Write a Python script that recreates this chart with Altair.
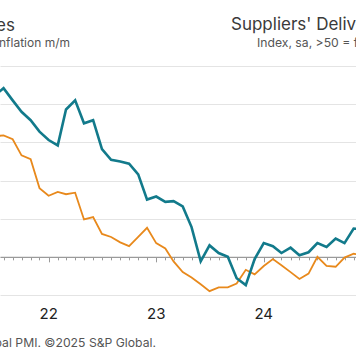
import altair as alt
import pandas as pd

months = pd.date_range("2021-07-01", "2024-12-01", freq="MS").strftime("%Y-%m-%d").tolist()

# Implied inflation m/m (%), left axis
prices = [1.58, 1.59, 1.54, 1.33, 1.28, 0.90,
          0.80, 0.85, 0.82, 0.84, 0.49, 0.52, 0.30, 0.26, 0.19, 0.14, 0.26, 0.38,
          0.18, 0.11, -0.06, -0.20, -0.27, -0.36, -0.45, -0.40, -0.40, -0.35, -0.17, -0.23,
          -0.12, -0.03, -0.11, -0.20, -0.29, -0.22, 0.00, -0.12, -0.13, -0.01, 0.04, 0.02]

# Suppliers' delivery times index (inverted right axis)
delivery = [28.9, 27.9, 29.5, 31.0, 32.1, 33.6,
            34.7, 35.4, 30.7, 29.5, 32.5, 32.1, 35.9, 37.3, 37.5, 37.8, 39.2, 42.5,
            42.1, 42.8, 42.7, 43.4, 46.1, 50.6, 48.5, 49.5, 50.0, 52.8, 53.7, 50.3,
            48.2, 48.6, 49.5, 48.8, 49.8, 49.4, 48.2, 48.7, 47.6, 48.2, 46.3, 46.4]

year_ticks = ["2022-01-01", "2023-01-01", "2024-01-01"]
year_labels = ["22", "23", "24"]

df = pd.DataFrame({"date": months, "prices": prices, "delivery": delivery})
years = pd.DataFrame({"date": year_ticks, "label": year_labels})

FONT = "Inter"
xscale = alt.Scale(type="utc",
                   domain=[alt.DateTime(year=2021, month=7, date=20, utc=True),
                           alt.DateTime(year=2024, month=11, date=9, utc=True)])
xaxis = alt.Axis(title=None, labels=False, grid=False, offset=-229 / 6,
                 domainColor="#9a9a9a", domainWidth=1.2,
                 tickColor="#9a9a9a", tickWidth=1,
                 tickSize={"condition": {"test": "utcmonth(datum.value) == 0", "value": 5}, "value": 3},
                 tickCount={"interval": "month", "step": 1})

x = alt.X("date:T", scale=xscale, axis=xaxis)

orange = alt.Chart(df).mark_line(color="#e8891c", strokeWidth=1.8).encode(
    x=x,
    y=alt.Y("prices:Q", scale=alt.Scale(domain=[-0.5, 2.5], nice=False, zero=False),
            axis=alt.Axis(title=None, labels=False, ticks=False, domain=False,
                          values=[-0.5, 0, 0.5, 1.0, 1.5, 2.0, 2.5],
                          gridColor="#e4e4e4", gridWidth=1)),
)

teal = alt.Chart(df).mark_line(color="#127a8b", strokeWidth=2.6).encode(
    x=x,
    y=alt.Y("delivery:Q", scale=alt.Scale(domain=[25, 55], reverse=True, nice=False, zero=False),
            axis=None),
)

yearlab = alt.Chart(years).mark_text(font=FONT, fontSize=15, color="#222222",
                                     baseline="middle", align="center").encode(
    x=x, y=alt.value(248), text="label:N")

one = alt.Data(values=[{}])
def label(text, xpos, ypos, size, color, align):
    return alt.Chart(one).mark_text(text=text, font=FONT, fontSize=size, color=color,
                                    align=align, baseline="alphabetic").encode(
        x=alt.value(xpos), y=alt.value(ypos))

titles = [
    label("Prices", 15, 31 - 66, 17, "#3a3a3a", "right"),
    label("Implied inflation m/m", 70, 47 - 66, 12, "#555555", "right"),
    label("Suppliers' Delivery Times", 231, 30 - 66, 17, "#3a3a3a", "left"),
    label("Index, sa, >50 = faster", 257, 47 - 66, 12.2, "#555555", "left"),
    label("Source: S&P Global PMI. ©2025 S&P Global.", 156, 347 - 66, 12.2, "#555555", "right"),
]

chart = alt.layer(orange, teal, yearlab, *titles).resolve_scale(y="independent").properties(
    width=356, height=229,
    autosize=alt.AutoSizeParams(type="none"),
    padding={"top": 66, "bottom": 69, "left": 0, "right": 0},
    background="white",
).configure_view(stroke=None)

chart.save("out.html", embed_options={"renderer": "svg", "actions": False})
